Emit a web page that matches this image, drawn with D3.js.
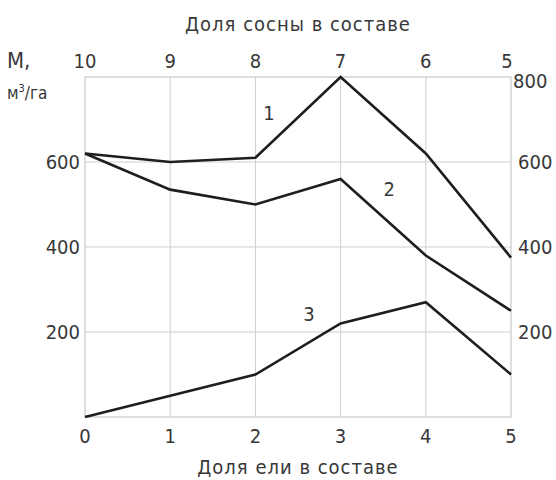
<!DOCTYPE html>
<html>
<head>
<meta charset="utf-8">
<script src="https://cdn.jsdelivr.net/npm/d3@7"></script>
<style>
  body { margin: 0; background: #fff; }
  text { font-family: "DejaVu Sans Condensed", "Liberation Sans Narrow", sans-serif; fill: #383838; }
</style>
</head>
<body>
<script>
// spruce share (bottom axis) and pine share (top axis)
var spruceShare = [0, 1, 2, 3, 4, 5];
var pineShare = [10, 9, 8, 7, 6, 5];
var leftTicks = [200, 400, 600];
var rightTicks = [200, 400, 600, 800];

// stock M, m3/ha, for curves 1, 2, 3
var curve1 = [620, 600, 610, 800, 620, 375];
var curve2 = [620, 535, 500, 560, 380, 250];
var curve3 = [0, 50, 100, 220, 270, 100];
var curveNames = ["1", "2", "3"];

var width = 556, height = 480;
var margin = {top: 77, right: 45, bottom: 63, left: 85};

var x = d3.scaleLinear().domain([0, 5]).range([margin.left, width - margin.right]);
var y = d3.scaleLinear().domain([0, 800]).range([height - margin.bottom, margin.top]);

var svg = d3.select("body").append("svg")
    .attr("width", width)
    .attr("height", height);

// grid
svg.append("g").selectAll("line.gx")
  .data([1, 2, 3, 4])
  .enter().append("line")
    .attr("x1", d => x(d)).attr("x2", d => x(d))
    .attr("y1", y(0)).attr("y2", y(800))
    .attr("stroke", "#cfcfcf").attr("stroke-width", 1);

svg.append("g").selectAll("line.gy")
  .data(leftTicks)
  .enter().append("line")
    .attr("x1", x(0)).attr("x2", x(5))
    .attr("y1", d => y(d)).attr("y2", d => y(d))
    .attr("stroke", "#cfcfcf").attr("stroke-width", 1);

// frame
svg.append("rect")
    .attr("x", x(0)).attr("y", y(800))
    .attr("width", x(5) - x(0)).attr("height", y(0) - y(800))
    .attr("fill", "none").attr("stroke", "#c8c8c8").attr("stroke-width", 1.2);

// bottom tick labels
svg.append("g").selectAll("text")
  .data(spruceShare)
  .enter().append("text")
    .attr("x", d => x(d)).attr("y", y(0) + 26)
    .attr("text-anchor", "middle")
    .attr("font-size", 20)
    .text(d => d);

// top tick labels
svg.append("g").selectAll("text")
  .data(pineShare)
  .enter().append("text")
    .attr("x", (d, i) => x(spruceShare[i]) + (i == 5 ? -4 : 0)).attr("y", y(800) - 9)
    .attr("text-anchor", "middle")
    .attr("font-size", 20)
    .text(d => d);

// left tick labels
svg.append("g").selectAll("text")
  .data(leftTicks)
  .enter().append("text")
    .attr("x", x(0) - 5).attr("y", d => y(d) + 7)
    .attr("text-anchor", "end")
    .attr("font-size", 20)
    .text(d => d);

// right tick labels
svg.append("g").selectAll("text")
  .data(rightTicks)
  .enter().append("text")
    .attr("x", d => x(5) + (d == 800 ? 2 : 7)).attr("y", d => y(d) + (d == 800 ? 11 : 7))
    .attr("text-anchor", "start")
    .attr("font-size", 20)
    .text(d => d);

// axis titles
svg.append("text")
    .attr("x", 298).attr("y", 31)
    .attr("text-anchor", "middle")
    .attr("font-size", 20)
    .attr("letter-spacing", 1)
    .text("Доля сосны в составе");

svg.append("text")
    .attr("x", 298).attr("y", 474)
    .attr("text-anchor", "middle")
    .attr("font-size", 20)
    .attr("letter-spacing", 1)
    .text("Доля ели в составе");

svg.append("text")
    .attr("x", 7).attr("y", 68)
    .attr("font-size", 22)
    .text("M,");

var unit = svg.append("text")
    .attr("x", 7).attr("y", 99)
    .attr("font-size", 17);
unit.append("tspan").text("м");
unit.append("tspan").attr("dy", -7).attr("font-size", 11).text("3");
unit.append("tspan").attr("dy", 7).text("/га");

// curves
var line = d3.line()
    .x((d, i) => x(spruceShare[i]))
    .y(d => y(d));

svg.append("g").selectAll("path")
  .data([curve1, curve2, curve3])
  .enter().append("path")
    .attr("d", line)
    .attr("fill", "none")
    .attr("stroke", "#1e1e1e")
    .attr("stroke-width", 2.6)
    .attr("stroke-linejoin", "miter");

// curve labels
var labelPos = [[2.16, 700], [3.57, 520], [2.63, 225]];
svg.append("g").selectAll("text")
  .data(curveNames)
  .enter().append("text")
    .attr("x", (d, i) => x(labelPos[i][0]))
    .attr("y", (d, i) => y(labelPos[i][1]))
    .attr("text-anchor", "middle")
    .attr("font-size", 20)
    .text(d => d);
</script>
</body>
</html>
